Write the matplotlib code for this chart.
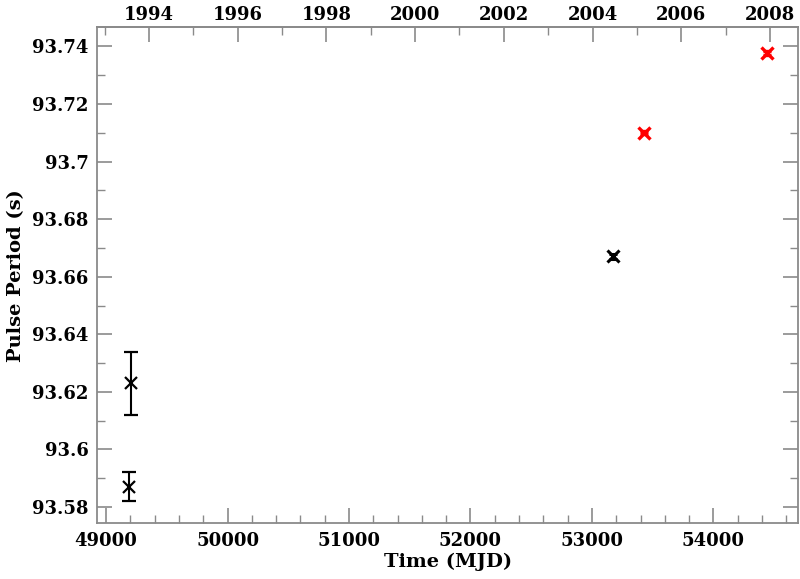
import numpy as np
import matplotlib
matplotlib.use("Agg")
import matplotlib.pyplot as plt
from matplotlib.ticker import MultipleLocator, FormatStrFormatter, FuncFormatter

# early measurements (black, with error bars)
mjd_old = [49187, 49206]
per_old = [93.587, 93.623]
err_old = [0.005, 0.011]

# 2004 measurement (black)
mjd_mid = [53170]
per_mid = [93.6671]
err_mid = [0.0008]

# newer measurements (red)
mjd_new = [53428, 54438]
per_new = [93.7101, 93.7378]
err_new = [0.0006, 0.0006]

year_ticks = [1994, 1996, 1998, 2000, 2002, 2004, 2006, 2008]

plt.rcParams["font.family"] = ["DejaVu Serif"]
plt.rcParams["font.weight"] = "bold"
spine_col = "#8a8a8a"

fig = plt.figure(figsize=(8, 5.79), dpi=100)
ax = fig.add_axes([0.121, 0.096, 0.877, 0.857])

ax.errorbar(mjd_old, per_old, yerr=err_old, fmt="x", color="black", ms=9,
            mew=1.6, elinewidth=1.5, capsize=5, capthick=1.5)
ax.errorbar(mjd_mid, per_mid, yerr=err_mid, fmt="x", color="black", ms=8,
            mew=2.2, elinewidth=1.5, capsize=3, capthick=1.5)
ax.errorbar(mjd_new, per_new, yerr=err_new, fmt="x", color="red", ms=8,
            mew=2.4, elinewidth=1.5, capsize=3, capthick=1.5)

ax.set_xlim(48923, 54700)
ax.set_ylim(93.5743, 93.7467)

ax.xaxis.set_major_locator(MultipleLocator(1000))
ax.xaxis.set_minor_locator(MultipleLocator(200))
ax.yaxis.set_major_locator(MultipleLocator(0.02))
ax.yaxis.set_minor_locator(MultipleLocator(0.01))
ax.yaxis.set_major_formatter(FuncFormatter(lambda v, p: "%g" % round(v, 4)))

ax.tick_params(which="both", direction="in", color=spine_col, labelsize=13,
               top=False, right=True, pad=6)
ax.tick_params(which="major", length=11, width=1.2)
ax.tick_params(which="minor", length=6, width=1.0)
for s in ax.spines.values():
    s.set_color(spine_col)
    s.set_linewidth(1.3)

ax.set_xlabel("Time (MJD)", fontsize=14, fontweight="bold", labelpad=2)
ax.set_ylabel("Pulse Period (s)", fontsize=14, fontweight="bold", labelpad=5)


def mjd2yr(m):
    return 2000.0 + (np.asarray(m) - 51544.0) / 365.25


def yr2mjd(y):
    return 51544.0 + (np.asarray(y) - 2000.0) * 365.25


top = ax.secondary_xaxis("top", functions=(mjd2yr, yr2mjd))
top.set_xticks(year_ticks)
top.xaxis.set_minor_locator(MultipleLocator(1))
top.xaxis.set_major_formatter(FormatStrFormatter("%d"))
top.tick_params(which="both", direction="in", color=spine_col, labelsize=13, pad=2)
top.tick_params(which="major", length=11, width=1.2)
top.tick_params(which="minor", length=6, width=1.0)
top.spines["top"].set_color(spine_col)
top.spines["top"].set_linewidth(1.3)

fig.savefig("out.png", dpi=100)
